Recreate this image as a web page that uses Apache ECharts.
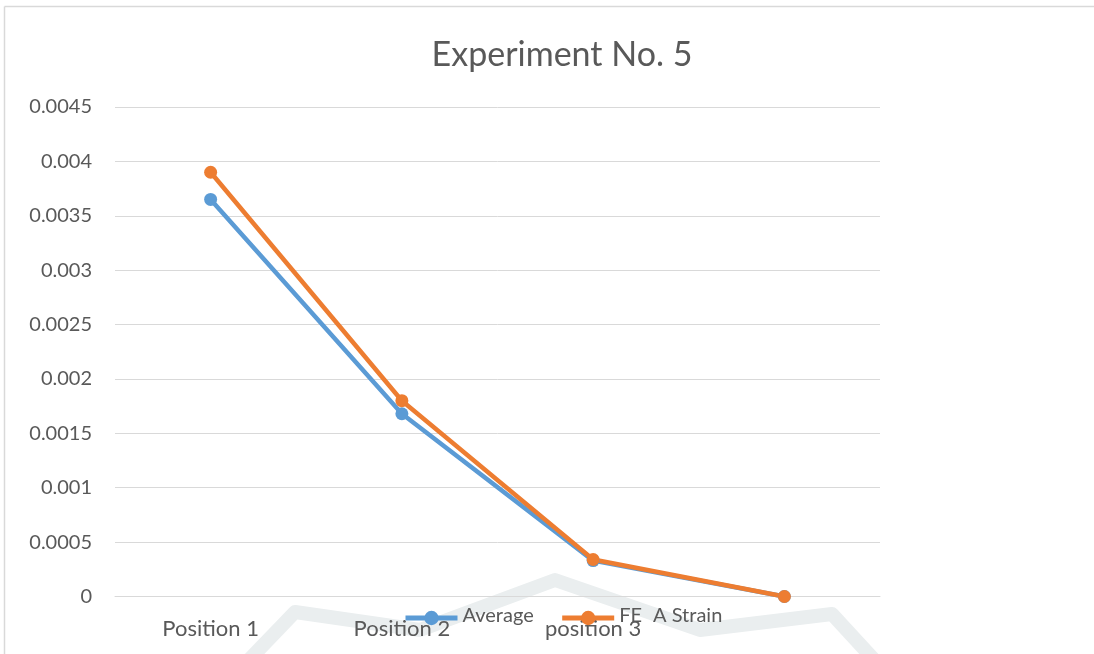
<!DOCTYPE html>
<html>
<head>
<meta charset="utf-8">
<script src="https://cdn.jsdelivr.net/npm/echarts@6/dist/echarts.min.js"></script>
<style>html,body{margin:0;padding:0;background:#fff}#c{width:1094px;height:654px}</style>
</head>
<body>
<div id="c"></div>
<script>
var categories = ['Position 1', 'Position 2', 'position 3', ''];
var averageValues = [0.00365, 0.00168, 0.00033, 0];
var feStrainValues = [0.0039, 0.0018, 0.00034, 0];
var yTickMin = 0, yTickMax = 0.0045, yTickStep = 0.0005;

var chart = echarts.init(document.getElementById('c'));
var FONT = 'Lato';
var TXT = '#595959';
chart.setOption({
  animation: false,
  backgroundColor: '#fff',
  title: {
    text: 'Experiment No. 5',
    left: 557, top: 33, textAlign: 'center',
    textStyle: { fontFamily: FONT, fontSize: 34, fontWeight: 'normal', color: TXT }
  },
  graphic: [
    { type: 'line', z: -10, silent: true, shape: { x1: 4.5, y1: 6.5, x2: 1094, y2: 6.5 },
      style: { stroke: '#d9d9d9', lineWidth: 1.5 } },
    { type: 'line', z: -10, silent: true, shape: { x1: 4.5, y1: 6.5, x2: 4.5, y2: 654 },
      style: { stroke: '#d9d9d9', lineWidth: 1.5 } },
    { type: 'polyline', z: -9, silent: true,
      shape: { points: [[245, 664], [295, 612], [420, 630], [555, 580], [700, 630], [832, 614], [878, 664]] },
      style: { fill: 'none', stroke: '#eaeeef', lineWidth: 14, lineJoin: 'round' } }
  ],
  legend: {
    left: 398, top: 601,
    itemWidth: 52, itemHeight: 18, itemGap: 26,
    lineStyle: { width: 5 },
    textStyle: { fontFamily: FONT, fontSize: 20, color: TXT, padding: [0, 0, 4, 0],
      rich: { g: { width: 11 } } },
    formatter: function (n) { return n === 'FE A Strain' ? 'FE{g|}A Strain' : n; },
    data: ['Average', 'FE A Strain']
  },
  grid: { left: 115, right: 214, top: 107, bottom: 57.5, containLabel: false },
  xAxis: {
    type: 'category', data: categories, boundaryGap: true,
    axisLine: { lineStyle: { color: '#d9d9d9', width: 1 } },
    axisTick: { show: false },
    axisLabel: { fontFamily: FONT, fontSize: 22, color: TXT, margin: 21, interval: 0 }
  },
  yAxis: {
    type: 'value', min: yTickMin, max: yTickMax, interval: yTickStep,
    axisLine: { show: false }, axisTick: { show: false },
    splitLine: { lineStyle: { color: '#d9d9d9', width: 1 } },
    axisLabel: { fontFamily: FONT, fontSize: 20, color: TXT, margin: 23,
      formatter: function (v) { return String(+v.toFixed(4)); } }
  },
  series: [
    { name: 'Average', type: 'line', data: averageValues, color: '#5B9BD5',
      symbol: 'circle', symbolSize: 13, lineStyle: { width: 4.5 } },
    { name: 'FE A Strain', type: 'line', data: feStrainValues, color: '#ED7D31',
      symbol: 'circle', symbolSize: 13, lineStyle: { width: 4.5 } }
  ]
});
</script>
</body>
</html>
